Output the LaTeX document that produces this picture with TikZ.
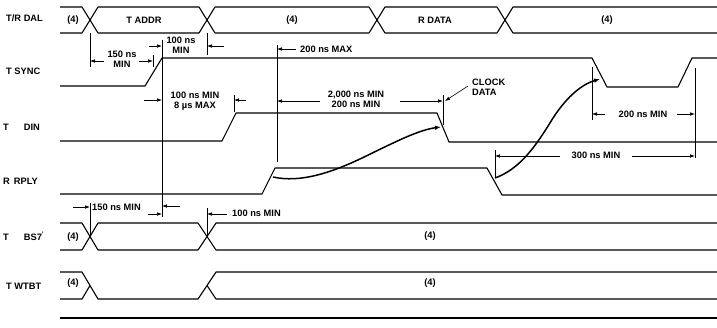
\documentclass[tikz,border=0pt]{standalone}
\usepackage{fontspec}
\setmainfont{Liberation Sans}
\usetikzlibrary{arrows.meta}
\begin{document}
\begin{tikzpicture}[x=1pt,y=-1pt,
  sig/.style={line width=1.1pt, line join=round},
  dim/.style={line width=0.6pt},
  darr/.style={line width=0.6pt, -{Latex[length=5pt,width=3.6pt]}},
  carr/.style={line width=1.5pt, -{Latex[length=6pt,width=4.5pt]}},
  txt/.style={font=\bfseries\fontsize{9.3}{10}\selectfont, inner sep=0pt, align=center},
  lbl/.style={font=\bfseries\fontsize{9.3}{10}\selectfont, inner sep=0pt, anchor=west}]
\useasboundingbox (0,0) rectangle (717,327);
% ---- signal names
\node[lbl] (nDAL) at (6,18) {T/R DAL};
\node[lbl] (nSYNC) at (6,71) {T SYNC};
\node[lbl] (nDIN) at (3,127) {T\hspace{15pt}DIN};
\node[lbl] (nRPLY) at (3,181) {R\hspace{4pt}RPLY};
\node[lbl] (nBS7) at (3,236) {T\hspace{15pt}BS7\textsuperscript{'}};
\node[lbl] (nWTBT) at (6,286) {T WTBT};
% ---- T/R DAL bus
\draw[sig] (60,7) -- (82,7) -- (98,33) -- (199,33) -- (215,7) -- (369,7) -- (385,33) -- (497,33) -- (513,7) -- (717,7);
\draw[sig] (60,33) -- (82,33) -- (98,7) -- (199,7) -- (215,33) -- (369,33) -- (385,7) -- (497,7) -- (513,33) -- (717,33);
\node[txt] (d1) at (73,20) {(4)};
\node[txt] (d2) at (144,20) {T ADDR};
\node[txt] (d3) at (292,20) {(4)};
\node[txt] (d4) at (435,20) {R DATA};
\node[txt] (d5) at (607,20) {(4)};
% ---- T SYNC
\draw[sig] (60,86) -- (145,86) -- (162,58) -- (592,58) -- (607,87) -- (678,87) -- (692,58) -- (717,58);
% ---- T DIN
\draw[sig] (60,141) -- (222,141) -- (236,113) -- (437,113) -- (449,142) -- (717,142);
% ---- R RPLY
\draw[sig] (60,194) -- (262,194) -- (275,168) -- (487,168) -- (502,195) -- (717,195);
% ---- T BS7
\draw[sig] (60,223) -- (82,223) -- (98,250) -- (198,250) -- (216,223) -- (717,223);
\draw[sig] (60,250) -- (82,250) -- (98,223) -- (198,223) -- (216,250) -- (717,250);
\node[txt] (b1) at (73,237) {(4)};
\node[txt] (b2) at (430,236) {(4)};
% ---- T WTBT
\draw[sig] (60,272) -- (82,272) -- (98,299) -- (198,299) -- (216,272) -- (717,272);
\draw[sig] (60,299) -- (82,299) -- (90,285.5);
\draw[sig] (207,285.5) -- (216,299) -- (717,299);
\node[txt] (w1) at (73,283) {(4)};
\node[txt] (w2) at (430,283) {(4)};
% ---- bottom line
\draw[sig] (60,318) -- (717,318);
% ---- timing annotations
% 150 ns MIN (top)
\draw[dim] (90,33) -- (90,67);
\draw[dim] (153,55) -- (153,67);
\draw[darr] (104,61) -- (90,61);
\draw[darr] (139,61) -- (153,61);
\node[txt] (t150a) at (122,59) {150 ns\\MIN};
% 100 ns MIN (top)
\draw[dim] (162,40) -- (162,217);
\draw[dim] (207,33) -- (207,55);
\draw[darr] (149,46) -- (162,46);
\draw[darr] (224,46) -- (207,46);
\node[txt] (t100a) at (181,45) {100 ns\\MIN};
% 200 ns MAX
\draw[dim] (277,45) -- (277,162);
\draw[darr] (296,49) -- (277,49);
\node[lbl] (t200max) at (300,49) {200 ns MAX};
% 100 ns MIN / 8 us MAX
\draw[darr] (144,100) -- (162,100);
\draw[dim] (234,95) -- (234,112);
\draw[darr] (246,100) -- (234,100);
\node[txt] (t100b) at (195,101) {100 ns MIN\\8 µs MAX};
% 2,000 ns MIN / 200 ns MIN
\draw[darr] (320,101) -- (277,101);
\draw[darr] (400,101) -- (443,101);
\draw[dim] (443,95) -- (443,125);
\node[txt] (t2000) at (356,99) {2,000 ns MIN\\200 ns MIN};
% CLOCK DATA
\node[txt, anchor=west, align=left] (tclk) at (472,87) {CLOCK\\DATA};
\draw[darr] (468,86) -- (445,101);
% curves
\draw[carr] (273,177) .. controls (300,183) and (330,173) .. (360,159) .. controls (393,143) and (418,130) .. (441,127);
\draw[carr] (495,178) .. controls (520,169) and (536,146) .. (553,118) .. controls (568,95) and (583,84) .. (600,79);
% 200 ns MIN (right)
\draw[dim] (592,67) -- (592,120);
\draw[dim] (695,68) -- (695,158);
\draw[darr] (605,114) -- (592,114);
\draw[darr] (677,114) -- (695,114);
\node[txt] (t200r) at (643,114) {200 ns MIN};
% 300 ns MIN
\draw[dim] (495,150) -- (495,178);
\draw[darr] (560,156) -- (495,156);
\draw[darr] (632,156) -- (695,156);
\node[txt] (t300) at (596,155) {300 ns MIN};
% 150 ns MIN (bottom)
\draw[dim] (90,203) -- (90,236);
\draw[darr] (73,207) -- (90,207);
\node[lbl] (t150b) at (92,207) {150 ns MIN};
\draw[darr] (180,206) -- (162,206);
% 100 ns MIN (bottom)
\draw[darr] (148,214) -- (162,214);
\draw[dim] (207,208) -- (207,236);
\draw[darr] (227,214) -- (207,214);
\node[lbl] (t100c) at (232,213) {100 ns MIN};
\end{tikzpicture}
\end{document}
